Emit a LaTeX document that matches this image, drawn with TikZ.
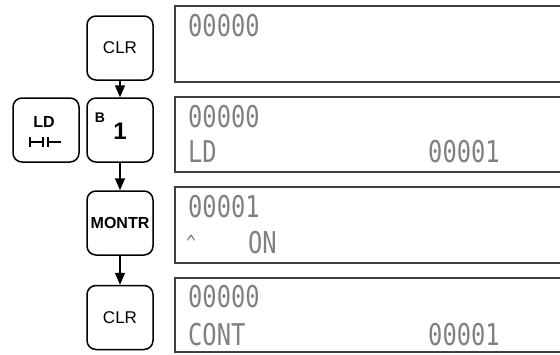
\documentclass[tikz,border=0pt]{standalone}
\usepackage{fontspec}
\setmainfont{Liberation Sans}
\newfontfamily\lcdfont{DejaVu Sans Mono}
\usepackage{graphicx}
\usetikzlibrary{arrows.meta}

% tall narrow characters of the hand-held display
\newcommand{\lcd}[1]{\scalebox{0.95}[1.2]{\lcdfont\fontsize{25}{25}\selectfont #1}}

\begin{document}
\begin{tikzpicture}[x=1pt, y=-1pt,
    key/.style={rectangle, draw, line width=1.5pt, rounded corners=9pt, minimum width=66pt, minimum height=64pt, inner sep=0pt, font=\fontsize{17}{17}\selectfont},
    screen/.style={draw=black!75, line width=1.2pt},
    lcdtxt/.style={anchor=base west, inner sep=0pt, text=black!50},
    arrow/.style={-{Triangle[length=12pt, width=10pt]}, line width=1.5pt}
]
\useasboundingbox (0,0) rectangle (560,354);

% keys
\node[key] (clra) at (120,48) {CLR};
\node[key] (one) at (120,130) {};
\node[font=\bfseries\fontsize{14}{14}\selectfont, inner sep=0pt] (bank) at (100,117.5) {B};
\node[font=\bfseries\fontsize{24}{24}\selectfont, inner sep=0pt] (onetxt) at (120,131) {1};
\node[key] (ld) at (46,130) {};
\node[font=\bfseries\fontsize{16}{16}\selectfont, inner sep=0pt] (ldtxt) at (44,122) {LD};
\draw[line width=1.5pt] (30,137) -- (30,147) (30,142) -- (43,142) (43,137) -- (43,147)
    (48,137) -- (48,147) (48,142) -- (61,142);
\node[key, font=\bfseries\fontsize{16}{16}\selectfont] (montr) at (120,223) {MONTR};
\node[key] (clrb) at (120,317.5) {CLR};

\draw[arrow] (clra) -- (one);
\draw[arrow] (one) -- (montr);
\draw[arrow] (montr) -- (clrb);

% displays
\draw[screen] (570,6) -- (175,6) -- (175,82) -- (570,82);
\draw[screen] (570,97) -- (175,97) -- (175,172) -- (570,172);
\draw[screen] (570,187) -- (175,187) -- (175,263) -- (570,263);
\draw[screen] (570,278) -- (175,278) -- (175,352) -- (570,352);

\node[lcdtxt] (da) at (188,36) {\lcd{00000}};
\node[lcdtxt] (db) at (188,127) {\lcd{00000}};
\node[lcdtxt] (dbop) at (188,162) {\lcd{LD}};
\node[lcdtxt] (dbaddr) at (428,162) {\lcd{00001}};
\node[lcdtxt] (dc) at (188,217) {\lcd{00001}};
\node[lcdtxt] (dccaret) at (186,250) {\scalebox{0.7}{\lcd{\textasciicircum}}};
\node[lcdtxt] (dcstate) at (248,253) {\lcd{ON}};
\node[lcdtxt] (dd) at (188,307) {\lcd{00000}};
\node[lcdtxt] (ddop) at (188,345) {\lcd{CONT}};
\node[lcdtxt] (ddaddr) at (428,345) {\lcd{00001}};
\end{tikzpicture}
\end{document}
